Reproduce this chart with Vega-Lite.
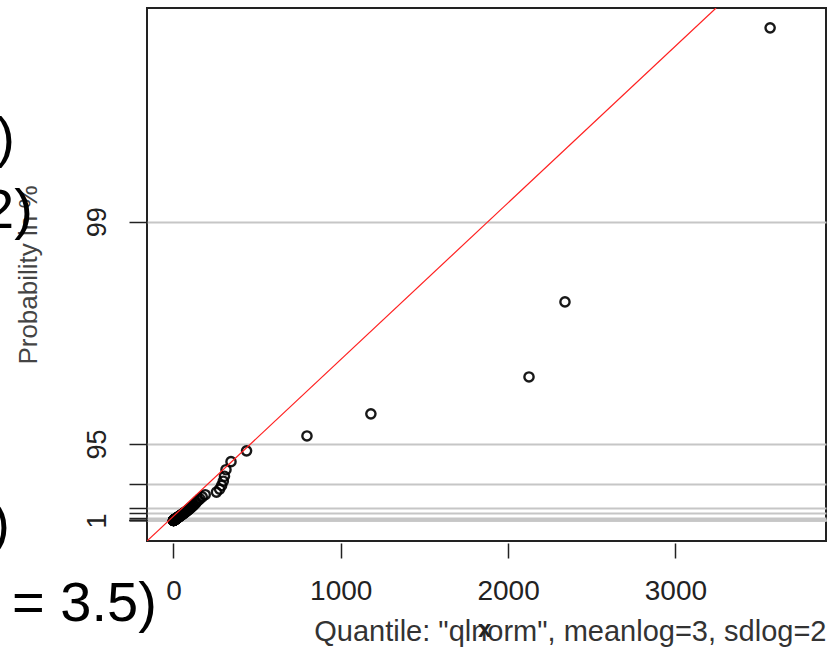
{
  "$schema": "https://vega.github.io/schema/vega-lite/v6.json",
  "width": 679,
  "height": 533,
  "autosize": {"type": "none"},
  "padding": {"left": 147, "top": 8, "right": 5, "bottom": 131},
  "background": "white",
  "config": {
    "view": {"stroke": "#222222", "strokeWidth": 2},
    "font": "Liberation Sans"
  },
  "datasets": {
    "qq": [
      {"sample": 0.1, "theoretical": 0.12}, {"sample": 0.3, "theoretical": 0.22}, {"sample": 0.4, "theoretical": 0.36},
      {"sample": 0.6, "theoretical": 0.5}, {"sample": 0.7, "theoretical": 0.64}, {"sample": 0.9, "theoretical": 0.79},
      {"sample": 1.2, "theoretical": 0.95}, {"sample": 1.3, "theoretical": 1.11}, {"sample": 1.5, "theoretical": 1.28},
      {"sample": 1.6, "theoretical": 1.46}, {"sample": 1.9, "theoretical": 1.64}, {"sample": 2.1, "theoretical": 1.82},
      {"sample": 2.3, "theoretical": 2.01}, {"sample": 2.4, "theoretical": 2.21}, {"sample": 2.8, "theoretical": 2.42},
      {"sample": 3.1, "theoretical": 2.64}, {"sample": 3.3, "theoretical": 2.86}, {"sample": 3.4, "theoretical": 3.1},
      {"sample": 3.9, "theoretical": 3.34}, {"sample": 4.2, "theoretical": 3.6}, {"sample": 4.5, "theoretical": 3.87},
      {"sample": 4.7, "theoretical": 4.15}, {"sample": 5.2, "theoretical": 4.44}, {"sample": 5.6, "theoretical": 4.74},
      {"sample": 5.9, "theoretical": 5.04}, {"sample": 6.1, "theoretical": 5.38}, {"sample": 6.8, "theoretical": 5.72},
      {"sample": 7.2, "theoretical": 6.07}, {"sample": 7.5, "theoretical": 6.45}, {"sample": 8.1, "theoretical": 6.83},
      {"sample": 8.6, "theoretical": 7.24}, {"sample": 8.9, "theoretical": 7.66}, {"sample": 9.6, "theoretical": 8.1},
      {"sample": 10.2, "theoretical": 8.57}, {"sample": 10.8, "theoretical": 9.04}, {"sample": 11.1, "theoretical": 9.54},
      {"sample": 12.0, "theoretical": 10.1}, {"sample": 12.7, "theoretical": 10.6}, {"sample": 13.1, "theoretical": 11.2},
      {"sample": 14.2, "theoretical": 11.8}, {"sample": 15.0, "theoretical": 12.4}, {"sample": 15.6, "theoretical": 13.1},
      {"sample": 16.7, "theoretical": 13.7}, {"sample": 17.5, "theoretical": 14.5}, {"sample": 18.1, "theoretical": 15.2},
      {"sample": 19.4, "theoretical": 16.0}, {"sample": 20.3, "theoretical": 16.8}, {"sample": 21.2, "theoretical": 17.7},
      {"sample": 22.6, "theoretical": 18.5}, {"sample": 23.7, "theoretical": 19.6}, {"sample": 24.9, "theoretical": 20.6},
      {"sample": 26.4, "theoretical": 21.7}, {"sample": 27.6, "theoretical": 22.8}, {"sample": 28.8, "theoretical": 24.0},
      {"sample": 30.5, "theoretical": 25.2}, {"sample": 32.1, "theoretical": 26.5}, {"sample": 33.4, "theoretical": 27.9},
      {"sample": 35.6, "theoretical": 29.3}, {"sample": 37.2, "theoretical": 30.9}, {"sample": 39.4, "theoretical": 32.5},
      {"sample": 41.3, "theoretical": 34.2}, {"sample": 43.0, "theoretical": 36.0}, {"sample": 46.2, "theoretical": 38.0},
      {"sample": 48.5, "theoretical": 40.0}, {"sample": 50.8, "theoretical": 42.3}, {"sample": 53.9, "theoretical": 44.6},
      {"sample": 56.4, "theoretical": 47.1}, {"sample": 59.8, "theoretical": 49.8}, {"sample": 63.1, "theoretical": 52.7},
      {"sample": 66.5, "theoretical": 55.7}, {"sample": 70.2, "theoretical": 59.0}, {"sample": 74.6, "theoretical": 62.6},
      {"sample": 78.3, "theoretical": 66.4}, {"sample": 83.7, "theoretical": 70.5}, {"sample": 88.2, "theoretical": 75.0},
      {"sample": 93.4, "theoretical": 79.8}, {"sample": 98.6, "theoretical": 85.1}, {"sample": 104, "theoretical": 90.9},
      {"sample": 111, "theoretical": 97.3}, {"sample": 117, "theoretical": 104}, {"sample": 123, "theoretical": 112},
      {"sample": 131, "theoretical": 121}, {"sample": 138, "theoretical": 130}, {"sample": 147, "theoretical": 141},
      {"sample": 158, "theoretical": 153}, {"sample": 172, "theoretical": 167}, {"sample": 190, "theoretical": 182},
      {"sample": 257, "theoretical": 200}, {"sample": 276, "theoretical": 221}, {"sample": 288, "theoretical": 247},
      {"sample": 298, "theoretical": 277}, {"sample": 305, "theoretical": 312}, {"sample": 314, "theoretical": 358},
      {"sample": 344, "theoretical": 415}, {"sample": 437, "theoretical": 491}, {"sample": 798, "theoretical": 596},
      {"sample": 1180, "theoretical": 752}, {"sample": 2125, "theoretical": 1012}, {"sample": 2340, "theoretical": 1541},
      {"sample": 3566, "theoretical": 3473}
    ],
    "fit": [
      {"sample": -158, "theoretical": -144.5},
      {"sample": 3243, "theoretical": 3613}
    ],
    "notes": [
      {"label": ")", "sample": -947, "theoretical": 2570},
      {"label": "2)", "sample": -840, "theoretical": 2060},
      {"label": ")", "sample": -977, "theoretical": -150},
      {"label": "= 3.5)", "sample": -99, "theoretical": -705}
    ],
    "marker": [
      {"label": "x", "sample": 1860, "theoretical": -772}
    ]
  },
  "layer": [
    {
      "data": {"name": "qq"},
      "mark": {"type": "point", "shape": "circle", "size": 85, "strokeWidth": 2.4, "color": "#000000", "opacity": 0.9, "filled": false},
      "encoding": {
        "x": {
          "field": "sample", "type": "quantitative",
          "scale": {"domain": [-158, 3900], "nice": false, "zero": false},
          "axis": {
            "values": [0, 1000, 2000, 3000], "format": "d",
            "offset": 2, "tickSize": 15, "tickWidth": 1.5, "tickColor": "#222222",
            "domain": false, "grid": false,
            "labelFontSize": 28, "labelColor": "#222222", "labelPadding": 19, "labelFlush": false,
            "title": "Quantile: \"qlnorm\", meanlog=3, sdlog=2",
            "titleAnchor": "end", "titleFontSize": 29, "titleFontWeight": "normal",
            "titleColor": "#333333", "titlePadding": 12
          }
        },
        "y": {
          "field": "theoretical", "type": "quantitative",
          "scale": {"domain": [-144.5, 3613], "nice": false, "zero": false},
          "axis": {
            "values": [0.19, 0.75, 1.55, 5.2, 20.1, 50, 90, 260.6, 539, 2106],
            "labelExpr": "datum.value == 2106 ? '99' : datum.value == 539 ? '95' : datum.value == 0.19 ? '1' : ''",
            "labelAngle": 270, "labelAlign": "center", "labelBaseline": "bottom",
            "labelOverlap": false, "labelFlush": false, "labelBound": false,
            "tickSize": 18, "tickWidth": 1.5, "tickColor": "#222222",
            "domain": false, "grid": true, "gridColor": "#c6c6c6", "gridWidth": 2,
            "labelFontSize": 27, "labelColor": "#222222", "labelPadding": 18,
            "title": "Probability in %", "titleFontSize": 26, "titleFontWeight": "normal",
            "titleColor": "#444444", "titlePadding": 42
          }
        }
      }
    },
    {
      "data": {"name": "fit"},
      "mark": {"type": "line", "color": "#ff2020", "strokeWidth": 1.2, "clip": true},
      "encoding": {
        "x": {"field": "sample", "type": "quantitative"},
        "y": {"field": "theoretical", "type": "quantitative"}
      }
    },
    {
      "data": {"name": "notes"},
      "mark": {"type": "text", "align": "right", "baseline": "alphabetic", "fontSize": 56, "color": "#000000", "clip": false},
      "encoding": {
        "x": {"field": "sample", "type": "quantitative"},
        "y": {"field": "theoretical", "type": "quantitative"},
        "text": {"field": "label"}
      }
    },
    {
      "data": {"name": "marker"},
      "mark": {"type": "text", "align": "center", "baseline": "middle", "fontSize": 24, "fontWeight": "bold", "color": "#222222", "clip": false},
      "encoding": {
        "x": {"field": "sample", "type": "quantitative"},
        "y": {"field": "theoretical", "type": "quantitative"},
        "text": {"field": "label"}
      }
    }
  ]
}
